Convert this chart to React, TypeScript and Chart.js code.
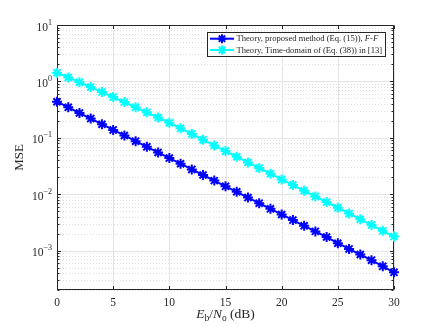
import React, { useEffect, useRef } from 'react';
import { Chart, registerables } from 'chart.js';

Chart.register(...registerables);

// ---- data ----
const ebNoDb = [0, 1, 2, 3, 4, 5, 6, 7, 8, 9, 10, 11, 12, 13, 14, 15, 16, 17, 18, 19, 20, 21, 22, 23, 24, 25, 26, 27, 28, 29, 30];
const proposedMSE = [
  0.436, 0.347, 0.275, 0.219, 0.174, 0.138, 0.110, 0.0871, 0.0692, 0.0550,
  0.0437, 0.0347, 0.0275, 0.0219, 0.0174, 0.0138, 0.0110, 0.00871, 0.00692, 0.00550,
  0.00437, 0.00347, 0.00275, 0.00219, 0.00174, 0.00135, 0.00107, 0.000851, 0.000676, 0.000525,
  0.000412,
];
const timeDomainMSE = [
  1.43, 1.175, 0.966, 0.794, 0.646, 0.527, 0.429, 0.348, 0.283, 0.229,
  0.185, 0.147, 0.117, 0.0925, 0.0733, 0.0581, 0.0461, 0.0366, 0.0290, 0.0231,
  0.0183, 0.0145, 0.0115, 0.00914, 0.00724, 0.00575, 0.00455, 0.00360, 0.00284, 0.00224,
  0.00177,
];
const xTickValues = [0, 5, 10, 15, 20, 25, 30];
const yDecadeExponents = [-4, -3, -2, -1, 0, 1];
const yMin = 2e-4;
const yMax = 10;
const seriesLabels = [
  'Theory, proposed method (Eq. (15)), ',
  'Theory, Time-domain of (Eq. (38)) in [13]',
];
const seriesColors = ['#0000ff', '#00ffff'];

const SERIF = '"Liberation Serif", "Times New Roman", serif';
const AXIS_COLOR = '#262626';

function starPath(ctx: CanvasRenderingContext2D, x: number, y: number, r: number) {
  ctx.beginPath();
  for (let k = 0; k < 4; k++) {
    const a = (k * Math.PI) / 4;
    const dx = Math.cos(a) * r;
    const dy = Math.sin(a) * r;
    ctx.moveTo(x - dx, y - dy);
    ctx.lineTo(x + dx, y + dy);
  }
  ctx.stroke();
}

const axesPlugin = {
  id: 'matlabAxes',
  beforeDatasetsDraw(chart: any) {
    const { ctx, chartArea: a, scales } = chart;
    const x = scales.x;
    const y = scales.y;
    const L = a.left, R = a.right, T = a.top, B = a.bottom;
    ctx.save();
    const gridVals: { v: number; major: boolean }[] = [];
    for (const e of yDecadeExponents) {
      for (let m = 1; m <= 9; m++) {
        const v = m * Math.pow(10, e);
        if (v < yMin * 0.999 || v > yMax * 1.001) continue;
        gridVals.push({ v, major: m === 1 });
      }
    }
    ctx.lineWidth = 1;
    for (const g of gridVals) {
      const py = Math.round(y.getPixelForValue(g.v)) + 0.5;
      if (g.major) {
        ctx.setLineDash([]);
        ctx.strokeStyle = '#e4e4e4';
      } else {
        ctx.setLineDash([1, 2]);
        ctx.strokeStyle = '#e0e0e0';
      }
      ctx.beginPath();
      ctx.moveTo(L, py);
      ctx.lineTo(R, py);
      ctx.stroke();
    }
    ctx.setLineDash([]);
    ctx.strokeStyle = '#e4e4e4';
    for (const v of xTickValues) {
      const px = Math.round(x.getPixelForValue(v)) + 0.5;
      ctx.beginPath();
      ctx.moveTo(px, T);
      ctx.lineTo(px, B);
      ctx.stroke();
    }
    ctx.strokeStyle = AXIS_COLOR;
    ctx.lineWidth = 1;
    const l = Math.round(L) + 0.5, r = Math.round(R) - 0.5, t = Math.round(T) + 0.5, b = Math.round(B) - 0.5;
    ctx.beginPath();
    ctx.rect(l, t, r - l, b - t);
    ctx.stroke();
    ctx.beginPath();
    for (const g of gridVals) {
      const py = Math.round(y.getPixelForValue(g.v)) + 0.5;
      const len = g.major ? 3.5 : 2;
      ctx.moveTo(l, py);
      ctx.lineTo(l + len, py);
      ctx.moveTo(r, py);
      ctx.lineTo(r - len, py);
    }
    for (const v of xTickValues) {
      const px = Math.round(x.getPixelForValue(v)) + 0.5;
      ctx.moveTo(px, b);
      ctx.lineTo(px, b - 3.5);
      ctx.moveTo(px, t);
      ctx.lineTo(px, t + 3.5);
    }
    ctx.stroke();
    ctx.restore();
  },
  afterDraw(chart: any) {
    const { ctx, chartArea: a, scales } = chart;
    const y = scales.y;
    ctx.save();
    ctx.fillStyle = AXIS_COLOR;
    for (const e of yDecadeExponents) {
      const v = Math.pow(10, e);
      if (v < yMin || v > yMax) continue;
      const py = y.getPixelForValue(v);
      const expStr = String(e).replace('-', '\u2212');
      ctx.font = `8px ${SERIF}`;
      const ew = ctx.measureText(expStr).width;
      ctx.font = `11.5px ${SERIF}`;
      const bw = ctx.measureText('10').width;
      const right = a.left - 5;
      ctx.textBaseline = 'middle';
      ctx.textAlign = 'left';
      ctx.fillText('10', right - ew - bw, py + 2.5);
      ctx.font = `8px ${SERIF}`;
      ctx.fillText(expStr, right - ew, py - 2.5);
    }
    ctx.save();
    ctx.translate(20, (a.top + a.bottom) / 2);
    ctx.rotate(-Math.PI / 2);
    ctx.font = `13px ${SERIF}`;
    ctx.textAlign = 'center';
    ctx.textBaseline = 'middle';
    ctx.fillText('MSE', 0, 0);
    ctx.restore();
    const parts: { t: string; f: string; dy: number }[] = [
      { t: 'E', f: `italic 13.5px ${SERIF}`, dy: 0 },
      { t: 'b', f: `9.5px ${SERIF}`, dy: 3 },
      { t: '/', f: `13.5px ${SERIF}`, dy: 0 },
      { t: 'N', f: `italic 13.5px ${SERIF}`, dy: 0 },
      { t: 'o', f: `9.5px ${SERIF}`, dy: 3 },
      { t: ' (dB)', f: `13.5px ${SERIF}`, dy: 0 },
    ];
    let tw = 0;
    for (const p of parts) {
      ctx.font = p.f;
      tw += ctx.measureText(p.t).width;
    }
    let cx = (a.left + a.right) / 2 - tw / 2;
    const baseY = 318;
    ctx.textAlign = 'left';
    ctx.textBaseline = 'alphabetic';
    for (const p of parts) {
      ctx.font = p.f;
      ctx.fillText(p.t, cx, baseY + p.dy);
      cx += ctx.measureText(p.t).width;
    }
    const bx = 207.5, by = 32.5, bw2 = 178, bh = 24;
    ctx.fillStyle = '#ffffff';
    ctx.fillRect(bx, by, bw2, bh);
    ctx.strokeStyle = AXIS_COLOR;
    ctx.lineWidth = 1;
    ctx.strokeRect(bx, by, bw2, bh);
    const rows = [38.7, 50];
    for (let i = 0; i < seriesLabels.length; i++) {
      const ry = rows[i];
      ctx.strokeStyle = seriesColors[i];
      ctx.lineWidth = 2;
      ctx.beginPath();
      ctx.moveTo(210, ry);
      ctx.lineTo(234, ry);
      ctx.stroke();
      ctx.lineWidth = 2;
      starPath(ctx, 222, ry, 4.5);
      ctx.fillStyle = AXIS_COLOR;
      ctx.font = `8.6px ${SERIF}`;
      ctx.textBaseline = 'middle';
      ctx.textAlign = 'left';
      ctx.fillText(seriesLabels[i], 236.5, ry + 0.5);
      if (i === 0) {
        const w = ctx.measureText(seriesLabels[i]).width;
        ctx.font = `italic 8.6px ${SERIF}`;
        ctx.fillText('F', 236.5 + w, ry + 0.5);
        const fw = ctx.measureText('F').width;
        ctx.font = `8.6px ${SERIF}`;
        ctx.fillText('-', 236.5 + w + fw, ry + 0.5);
        const dw = ctx.measureText('-').width;
        ctx.font = `italic 8.6px ${SERIF}`;
        ctx.fillText('F', 236.5 + w + fw + dw, ry + 0.5);
      }
    }
    ctx.restore();
  },
};

export default function App() {
  const canvasRef = useRef<HTMLCanvasElement | null>(null);
  useEffect(() => {
    if (!canvasRef.current) return;
    const chart = new Chart(canvasRef.current, {
      type: 'line',
      data: {
        labels: ebNoDb,
        datasets: [
          {
            label: seriesLabels[0],
            data: ebNoDb.map((v, i) => ({ x: v, y: proposedMSE[i] })),
            borderColor: seriesColors[0],
            backgroundColor: seriesColors[0],
            borderWidth: 2,
            pointStyle: 'star',
            pointRadius: 5,
            pointBorderWidth: 2,
            pointBorderColor: seriesColors[0],
            clip: false,
          },
          {
            label: seriesLabels[1],
            data: ebNoDb.map((v, i) => ({ x: v, y: timeDomainMSE[i] })),
            borderColor: seriesColors[1],
            backgroundColor: seriesColors[1],
            borderWidth: 2,
            pointStyle: 'star',
            pointRadius: 5,
            pointBorderWidth: 2,
            pointBorderColor: seriesColors[1],
            clip: false,
          },
        ],
      },
      options: {
        animation: false,
        responsive: false,
        maintainAspectRatio: false,
        layout: { padding: { left: 0, top: 25, right: 42, bottom: 0 } },
        plugins: { legend: { display: false }, tooltip: { enabled: false } },
        scales: {
          x: {
            type: 'linear',
            min: 0,
            max: 30,
            grid: { display: false, drawTicks: false },
            border: { display: false },
            ticks: {
              stepSize: 5,
              padding: 6,
              color: AXIS_COLOR,
              font: { family: SERIF, size: 11.5 },
              maxRotation: 0,
            },
            afterFit: (s: any) => {
              s.height = 37;
            },
          },
          y: {
            type: 'logarithmic',
            min: yMin,
            max: yMax,
            grid: { display: false },
            border: { display: false },
            ticks: { display: false },
            afterFit: (s: any) => {
              s.width = 57;
            },
          },
        },
      },
      plugins: [axesPlugin],
    } as any);
    return () => chart.destroy();
  }, []);
  return (
    <div style={{ position: 'fixed', left: 0, top: 0, width: 436, height: 327, background: '#fff' }}>
      <canvas ref={canvasRef} width={436} height={327} style={{ display: 'block' }} />
    </div>
  );
}
